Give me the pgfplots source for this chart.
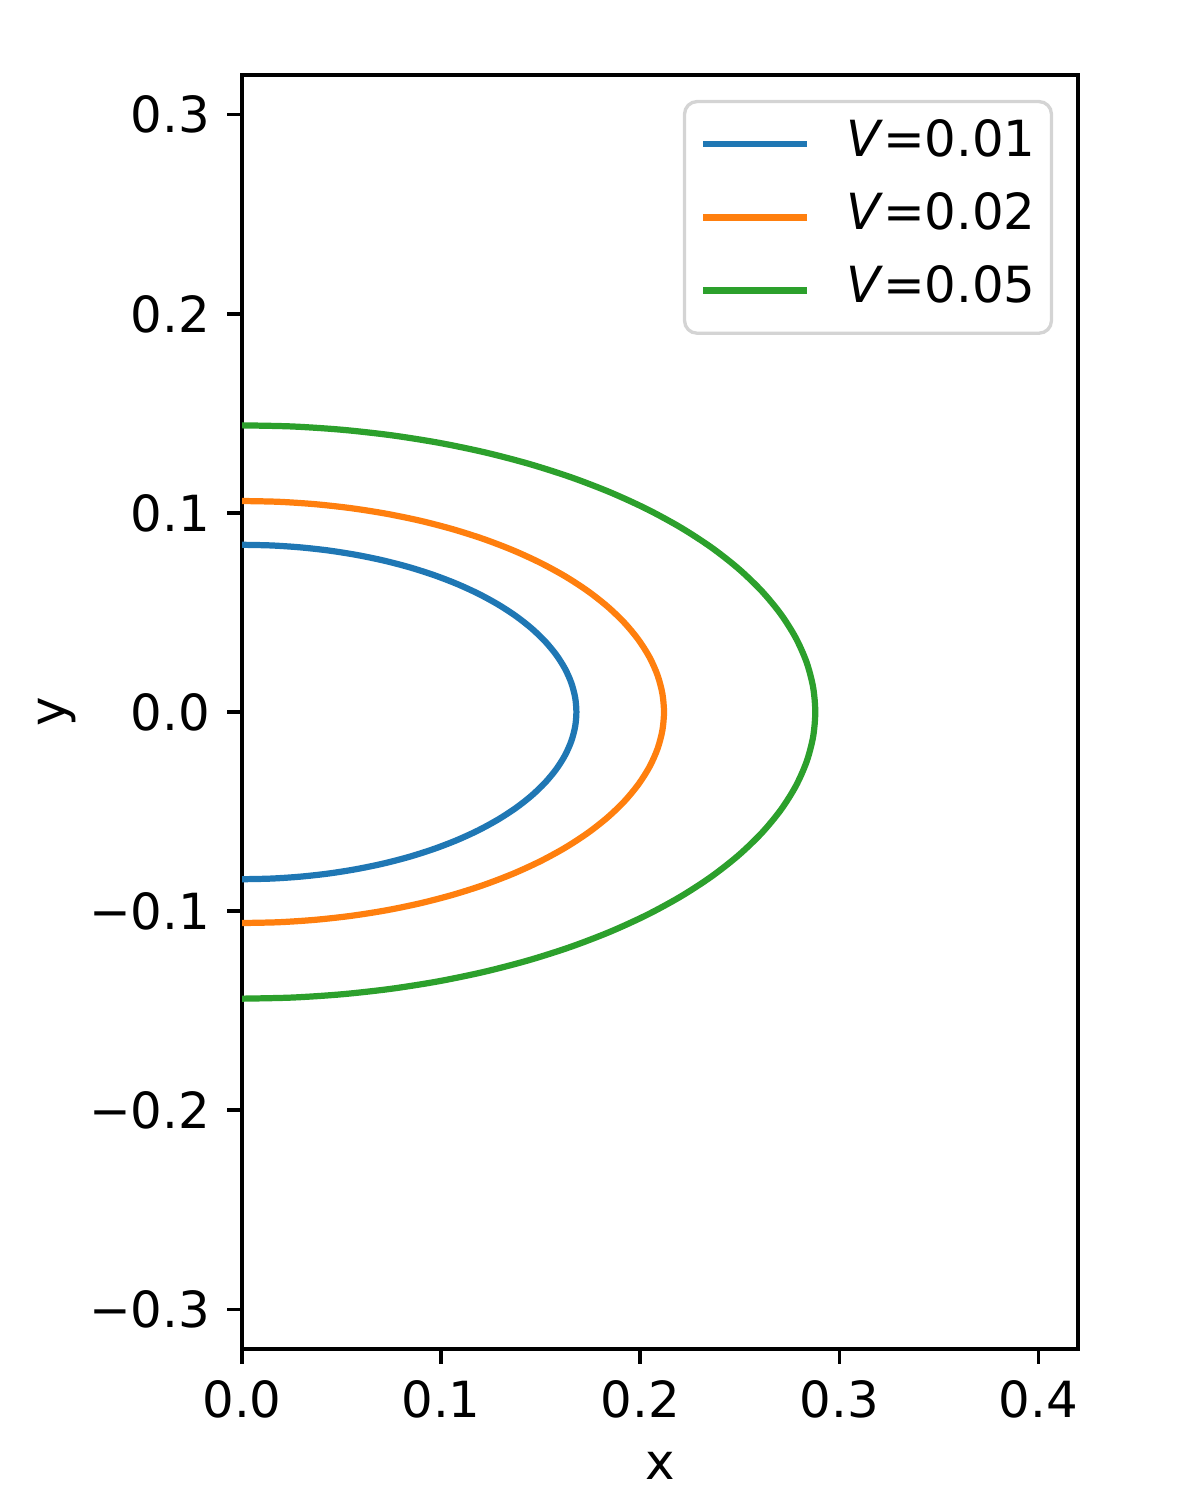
\documentclass[border=0pt]{standalone}
\usepackage{fontspec}
\setmainfont{DejaVu Sans}
\usepackage{pgfplots}
\usepackage{pgfplotstable}
\pgfplotsset{compat=1.18}
\definecolor{tabblue}{HTML}{1F77B4}
\definecolor{taborange}{HTML}{FF7F0E}
\definecolor{tabgreen}{HTML}{2CA02C}
\pgfplotstableread{
x y
0 -0.084
0.01464 -0.08368
0.02917 -0.08272
0.04348 -0.08114
0.05746 -0.07893
0.07100 -0.07613
0.084 -0.07275
0.09636 -0.06881
0.10799 -0.06435
0.11879 -0.05940
0.12869 -0.05399
0.13762 -0.04818
0.14549 -0.042
0.15226 -0.03550
0.15787 -0.02873
0.16228 -0.02174
0.16545 -0.01459
0.16736 -0.00732
0.168 0
0.16736 0.00732
0.16545 0.01459
0.16228 0.02174
0.15787 0.02873
0.15226 0.03550
0.14549 0.042
0.13762 0.04818
0.12869 0.05399
0.11879 0.05940
0.10799 0.06435
0.09636 0.06881
0.084 0.07275
0.07100 0.07613
0.05746 0.07893
0.04348 0.08114
0.02917 0.08272
0.01464 0.08368
0 0.084
}\blue
\pgfplotstableread{
x y
0 -0.106
0.01848 -0.10560
0.03681 -0.10439
0.05487 -0.10239
0.07251 -0.09961
0.08960 -0.09607
0.106 -0.0918
0.12160 -0.08683
0.13627 -0.0812
0.14991 -0.07495
0.1624 -0.06814
0.17366 -0.0608
0.1836 -0.053
0.19214 -0.0448
0.19921 -0.03625
0.20478 -0.02743
0.20878 -0.01841
0.21119 -0.00924
0.212 0
0.21119 0.00924
0.20878 0.01841
0.20478 0.02743
0.19921 0.03625
0.19214 0.0448
0.1836 0.053
0.17366 0.0608
0.1624 0.06814
0.14991 0.07495
0.13627 0.0812
0.12160 0.08683
0.106 0.0918
0.08960 0.09607
0.07251 0.09961
0.05487 0.10239
0.03681 0.10439
0.01848 0.10560
0 0.106
}\orange
\pgfplotstableread{
x y
0 -0.144
0.02510 -0.14345
0.05001 -0.14181
0.07454 -0.13909
0.0985 -0.13532
0.12171 -0.13051
0.144 -0.12471
0.16519 -0.11796
0.18512 -0.11031
0.20365 -0.10182
0.22062 -0.09256
0.23592 -0.0826
0.24942 -0.072
0.26102 -0.06086
0.27063 -0.04925
0.27819 -0.03727
0.28363 -0.02501
0.28690 -0.01255
0.288 0
0.28690 0.01255
0.28363 0.02501
0.27819 0.03727
0.27063 0.04925
0.26102 0.06086
0.24942 0.072
0.23592 0.0826
0.22062 0.09256
0.20365 0.10182
0.18512 0.11031
0.16519 0.11796
0.144 0.12471
0.12171 0.13051
0.0985 0.13532
0.07454 0.13909
0.05001 0.14181
0.02510 0.14345
0 0.144
}\green
\begin{document}
\fontsize{12}{14.4}\selectfont
\begin{tikzpicture}
\useasboundingbox (-0.8067in,-0.5033in) rectangle (3.1933in,4.4967in);
\begin{axis}[
  at={(0,0)}, anchor=south west,
  scale only axis,
  width=2.7867in, height=4.2467in,
  xmin=0, xmax=0.42, ymin=-0.32, ymax=0.32,
  xtick={0,0.1,0.2,0.3,0.4},
  xticklabels={0.0,0.1,0.2,0.3,0.4},
  ytick={-0.3,-0.2,-0.1,0,0.1,0.2,0.3},
  yticklabels={−0.3,−0.2,−0.1,0.0,0.1,0.2,0.3},
  xtick pos=bottom, ytick pos=left,
  tick align=outside,
  major tick length=3.5pt,
  tick style={line width=0.8pt, black},
  axis line style={line width=0.8pt},
  ticklabel style={font=\fontsize{12}{14.4}\selectfont},
  label style={font=\fontsize{12}{14.4}\selectfont},
  xlabel={x}, ylabel={y},
  ylabel shift=-5pt,
  legend cell align=left,
  legend image code/.code={\draw[#1, line width=1.5pt] (0pt,0pt) -- (25pt,0pt);},
  legend style={
    at={(1,1)}, anchor=north east, xshift=-6pt, yshift=-6pt,
    draw=black!17, line width=0.8pt, rounded corners=3pt,
    inner xsep=3.8pt, inner ysep=4.3pt,
    font=\fontsize{12}{14.4}\selectfont,
    row sep=5.6pt, column sep=8.6pt,
    nodes={inner xsep=0pt, inner ysep=0pt, text height=9pt, text depth=3pt},
  },
  every axis plot/.append style={line width=1.5pt, smooth},
]
\addplot[tabblue] table[x=x, y=y] {\blue};
\addlegendentry{\textit{V}=0.01}
\addplot[taborange] table[x=x, y=y] {\orange};
\addlegendentry{\textit{V}=0.02}
\addplot[tabgreen] table[x=x, y=y] {\green};
\addlegendentry{\textit{V}=0.05}
\end{axis}
\end{tikzpicture}
\end{document}
